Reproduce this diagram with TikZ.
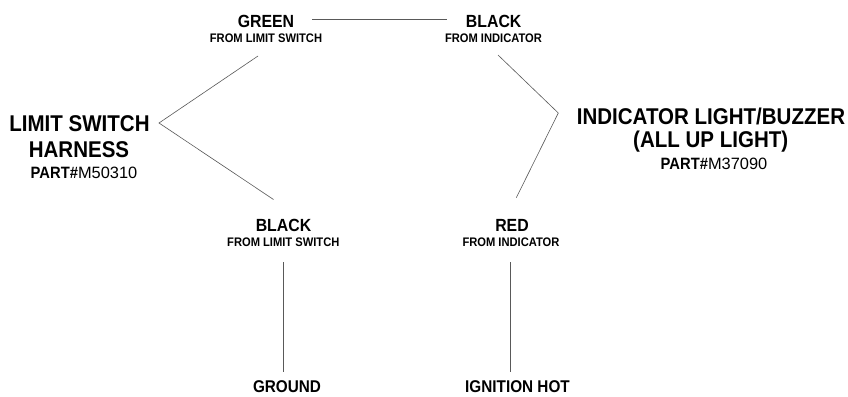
\documentclass[tikz,border=0pt]{standalone}
\usepackage{fontspec}
\setmainfont{Liberation Sans}[BoldFeatures={FakeStretch=0.9}]
\tikzset{
 every node/.style={inner sep=0pt,outer sep=0pt,align=center},
 wire/.style={draw=black!65,line width=0.6pt},
 big/.style={font=\bfseries\fontsize{22.8}{24}\selectfont},
 mid/.style={font=\bfseries\fontsize{17.6}{20}\selectfont},
 low/.style={font=\bfseries\fontsize{17}{20}\selectfont},
 part/.style={font=\bfseries\fontsize{16.4}{20}\selectfont},
 small/.style={font=\bfseries\fontsize{12.4}{14}\selectfont}
}
\begin{document}
\begin{tikzpicture}[x=1pt,y=-1pt]
\useasboundingbox (0,0) rectangle (848,396);
\fill[white] (0,0) rectangle (848,396);
\node[mid] (g) at (266,21) {GREEN};
\node[small] (gs) at (266,38) {FROM LIMIT SWITCH};
\node[mid] (b) at (493.7,21) {BLACK};
\node[small] (bs) at (493.5,38) {FROM INDICATOR};
\node[mid] (lb) at (283.5,225.5) {BLACK};
\node[small] (lbs) at (283.3,242) {FROM LIMIT SWITCH};
\node[mid] (r) at (512,225.5) {RED};
\node[small] (rs) at (511,242) {FROM INDICATOR};
\node[low] (gnd) at (287,387) {GROUND};
\node[low] (ign) at (517.5,387) {IGNITION HOT};
\node[big] (h1) at (79.5,124) {LIMIT SWITCH};
\node[big] (h2) at (79,150) {HARNESS};
\node[part] (h3) at (84,173) {PART\#{\mdseries M50310}};
\node[big] (i1) at (711,116) {INDICATOR LIGHT/BUZZER};
\node[big] (i2) at (710.7,142) {(ALL UP LIGHT)};
\node[part] (i3) at (714,163.5) {PART\#{\mdseries M37090}};
\coordinate (lv) at (159,123);
\coordinate (rv) at (558.3,113);
\draw[wire] (312,19.3) -- (446.7,19.3);
\draw[wire] (258,56) -- (lv) -- (273.5,199.5);
\draw[wire] (498,55) -- (rv) -- (516.3,197.7);
\draw[wire] (283.3,262) -- (283.3,371.7);
\draw[wire] (510,262) -- (510,371.7);
\end{tikzpicture}
\end{document}
